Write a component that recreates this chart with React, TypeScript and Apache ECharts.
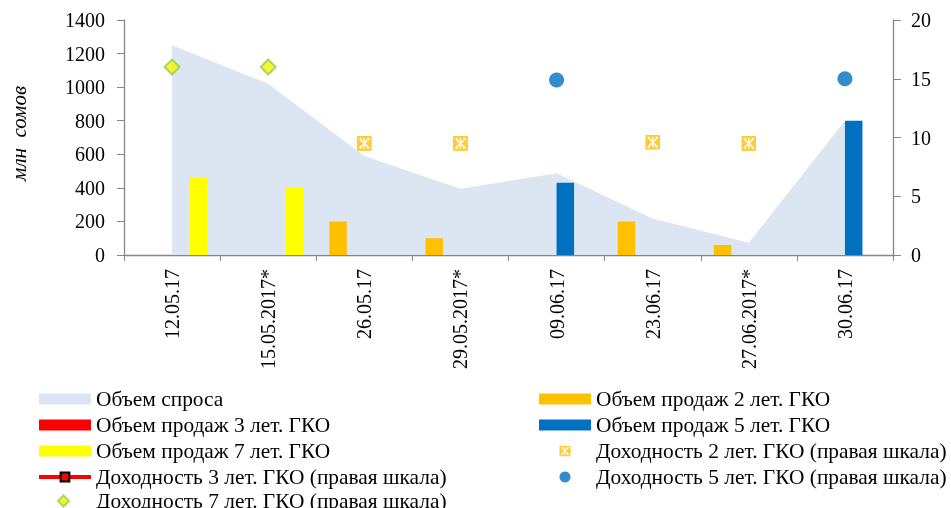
import React, { useEffect, useRef } from "react";
import * as echarts from "echarts";

const categories = ["12.05.17", "15.05.2017*", "26.05.17", "29.05.2017*", "09.06.17", "23.06.17", "27.06.2017*", "30.06.17"];
const demand = [1250, 1020, 590, 395, 487, 218, 73, 800];
const sales2 = [null, null, 200, 100, null, 200, 60, null];
const sales3 = [null, null, null, null, null, null, null, null];
const sales5 = [null, null, null, null, 430, null, null, 800];
const sales7 = [460, 400, null, null, null, null, null, null];
const yield2 = [null, null, 9.5, 9.5, null, 9.6, 9.5, null];
const yield3 = [null, null, null, null, null, null, null, null];
const yield5 = [null, null, null, null, 14.9, null, null, 15.0];
const yield7 = [16, 16, null, null, null, null, null, null];
const leftTicks = { min: 0, max: 1400, interval: 200 };
const rightTicks = { min: 0, max: 20, interval: 5 };

const names = {
  demand: "Объем спроса",
  s2: "Объем продаж 2 лет. ГКО",
  s3: "Объем продаж 3 лет. ГКО",
  s5: "Объем продаж 5 лет. ГКО",
  s7: "Объем продаж 7 лет. ГКО",
  y2: "Доходность 2 лет. ГКО (правая шкала)",
  y3: "Доходность 3 лет. ГКО (правая шкала)",
  y5: "Доходность 5 лет. ГКО (правая шкала)",
  y7: "Доходность 7 лет. ГКО (правая шкала)",
};

const zheSvg =
  '<svg xmlns="http://www.w3.org/2000/svg" width="16" height="16" viewBox="0 0 16 16">' +
  '<rect x="0" y="0" width="16" height="16" fill="#FFC000"/>' +
  '<g stroke="#FFFFFF" stroke-width="1.6" fill="none">' +
  '<line x1="8" y1="2.5" x2="8" y2="13.5"/>' +
  '<line x1="3.5" y1="3.5" x2="12.5" y2="12.5"/>' +
  '<line x1="12.5" y1="3.5" x2="3.5" y2="12.5"/>' +
  '<line x1="2.5" y1="3" x2="5" y2="3"/>' +
  '<line x1="11" y1="3" x2="13.5" y2="3"/>' +
  '<line x1="2.5" y1="13" x2="5" y2="13"/>' +
  '<line x1="11" y1="13" x2="13.5" y2="13"/>' +
  '</g></svg>';
const zheSymbol = "image://data:image/svg+xml;charset=utf-8," + encodeURIComponent(zheSvg);

const FONT = "Liberation Serif";
const GREY = "#868686";

export default function App() {
  const ref = useRef<HTMLDivElement>(null);
  useEffect(() => {
    if (!ref.current) return;
    const chart = echarts.init(ref.current, undefined, { renderer: "svg" });
    const legendText = { fontFamily: FONT, fontSize: 21.4, color: "#000", lineHeight: 21 };
    const barW = 17.5;
    const legendCommon = {
      orient: "vertical",
      top: 383.5,
      height: 300,
      padding: 5,
      itemWidth: 52,
      itemHeight: 11,
      itemGap: 5,
      textStyle: legendText,
      selectedMode: false,
      symbolKeepAspect: true,
    };
    chart.setOption({
      animation: false,
      textStyle: { fontFamily: FONT },
      grid: { left: 122, right: 58, top: 20, bottom: 253, containLabel: false },
      legend: [
        {
          ...legendCommon,
          left: 32,
          data: [
            { name: names.demand, icon: "rect" },
            { name: names.s3, icon: "rect" },
            { name: names.s7, icon: "rect" },
            { name: names.y3, lineStyle: { width: 4, color: "#FF0000" } },
          ],
        },
        {
          ...legendCommon,
          left: 52,
          top: 485.5,
          itemWidth: 11,
          textStyle: { ...legendText, padding: [0, 0, 0, 22] },
          data: [{ name: names.y7 }],
        },
        {
          ...legendCommon,
          left: 534,
          data: [
            { name: names.s2, icon: "rect" },
            { name: names.s5, icon: "rect" },
            { name: names.y2 },
            { name: names.y5 },
          ],
        },
      ],
      xAxis: {
        type: "category",
        data: categories,
        boundaryGap: true,
        axisLine: { lineStyle: { color: GREY, width: 1.3 } },
        axisTick: { show: true, length: 6, lineStyle: { color: GREY } },
        axisLabel: { rotate: 90, fontFamily: FONT, fontSize: 20, color: "#000", margin: 14, interval: 0 },
      },
      yAxis: [
        {
          type: "value",
          ...leftTicks,
          name: "млн  сомов",
          nameLocation: "middle",
          nameRotate: 90,
          nameGap: 95,
          nameTextStyle: { fontFamily: FONT, fontSize: 21, fontStyle: "italic", color: "#000", padding: [0, 0, 0, 8] },
          splitLine: { show: false },
          axisLine: { show: true, lineStyle: { color: GREY, width: 1.3 } },
          axisTick: { show: true, length: 7, lineStyle: { color: GREY } },
          axisLabel: { fontFamily: FONT, fontSize: 20, color: "#000", margin: 19, formatter: (v: number) => String(v) },
        },
        {
          type: "value",
          ...rightTicks,
          position: "right",
          splitLine: { show: false },
          axisLine: { show: true, lineStyle: { color: GREY, width: 1.3 } },
          axisTick: { show: true, length: 8, lineStyle: { color: GREY } },
          axisLabel: { fontFamily: FONT, fontSize: 20, color: "#000", margin: 18, formatter: (v: number) => String(v) },
        },
      ],
      series: [
        {
          name: names.demand,
          type: "line",
          data: demand,
          symbol: "none",
          color: "#DCE6F2",
          lineStyle: { width: 0, color: "#DCE6F2" },
          itemStyle: { color: "#DCE6F2" },
          areaStyle: { color: "#DCE6F2", opacity: 1 },
          z: 1,
        },
        { name: names.s2, type: "bar", data: sales2, barWidth: barW, barGap: "0%", itemStyle: { color: "#FFC000" }, z: 2 },
        { name: names.s3, type: "bar", data: sales3, barWidth: barW, barGap: "0%", itemStyle: { color: "#FF0000" }, z: 2 },
        { name: names.s5, type: "bar", data: sales5, barWidth: barW, barGap: "0%", itemStyle: { color: "#0070C0" }, z: 2 },
        { name: names.s7, type: "bar", data: sales7, barWidth: barW, barGap: "0%", itemStyle: { color: "#FFFF00" }, z: 2 },
        {
          name: names.y2,
          type: "scatter",
          yAxisIndex: 1,
          data: yield2,
          symbol: zheSymbol,
          symbolSize: 15,
          symbolKeepAspect: true,
          itemStyle: { color: "#FFC000" },
          z: 3,
        },
        {
          name: names.y3,
          type: "line",
          yAxisIndex: 1,
          data: yield3,
          symbol: "rect",
          symbolSize: 10,
          lineStyle: { color: "#FF0000", width: 4 },
          itemStyle: { color: "#FF0000", borderColor: "#000", borderWidth: 2.5 },
          z: 3,
        },
        {
          name: names.y5,
          type: "scatter",
          yAxisIndex: 1,
          data: yield5,
          symbol: "circle",
          symbolSize: 15,
          symbolKeepAspect: true,
          itemStyle: { color: "#0070C0" },
          z: 3,
        },
        {
          name: names.y7,
          type: "scatter",
          yAxisIndex: 1,
          data: yield7,
          symbol: "diamond",
          symbolSize: 15,
          symbolKeepAspect: true,
          itemStyle: { color: "#F5F500", borderColor: "#92D050", borderWidth: 2 },
          z: 3,
        },
      ],
    });
    return () => chart.dispose();
  }, []);
  return <div ref={ref} style={{ position: "fixed", left: 0, top: 0, width: 951, height: 508 }} />;
}
